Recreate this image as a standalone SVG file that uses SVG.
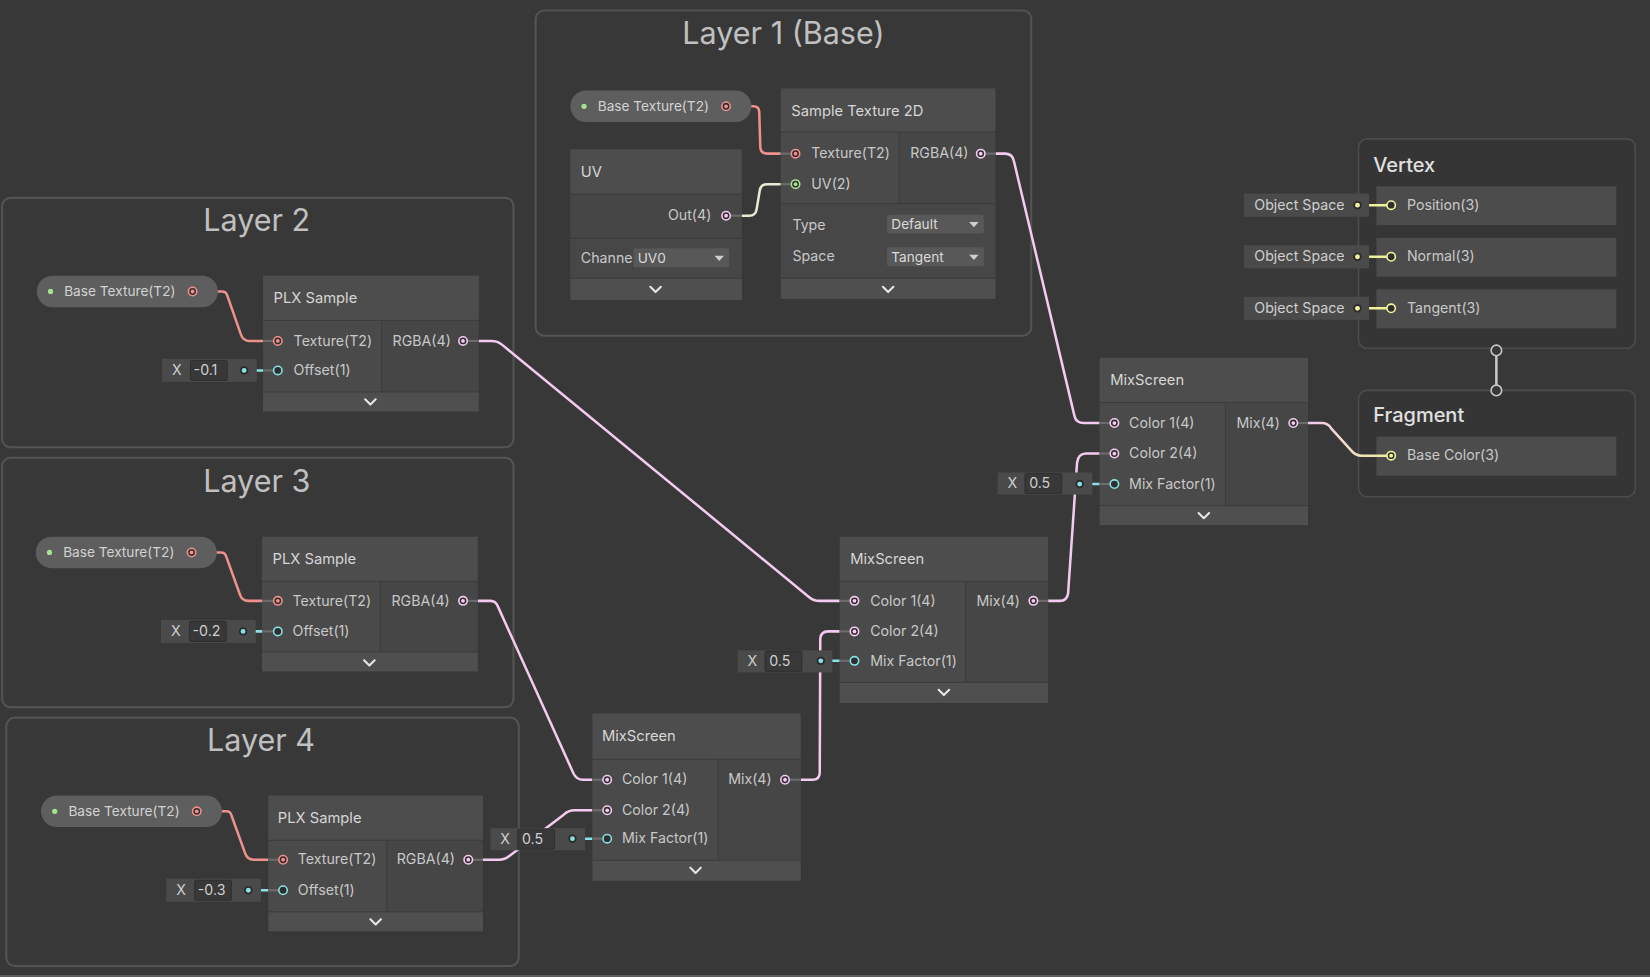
<svg xmlns="http://www.w3.org/2000/svg" width="1650" height="977" viewBox="0 0 1650 977">
<defs>
<style>
text{font-family:Inter,"Noto Sans","DejaVu Sans",sans-serif;}
.gbox{fill:#383838;stroke:#535353;stroke-width:2;}
.gt{font-size:29px;fill:#c0c0c0;text-anchor:middle;}
.base{fill:#3c3c3c;}
.hdr{fill:#4d4d4d;}
.in{fill:#4a4a4a;}
.out{fill:#464646;}
.ctl{fill:#474747;}
.ftr{fill:#4f4f4f;}
.ttl{font-size:14px;fill:#d6d6d6;}
.lbl{font-size:13.5px;fill:#c8c8c8;}
.end{text-anchor:end;}
.pill{fill:#5e5e5e;}
.ptxt{font-size:13px;fill:#d2d2d2;}
.chev{fill:none;stroke:#e6e6e6;stroke-width:2;stroke-linecap:round;stroke-linejoin:round;}
.dd{fill:#585858;}
.ddt{font-size:13px;fill:#dadada;}
.tri{fill:#cfcfcf;}
.fld{fill:#4a4a4a;}
.fin{fill:#383838;stroke:#303030;stroke-width:1;}
.ftxt{font-size:13.5px;fill:#cfcfcf;}
.fx{font-size:13.5px;fill:#cfcfcf;text-anchor:middle;}
.stub{stroke:#6c6c6c;stroke-width:2;}
.e{fill:none;stroke-width:2.4;stroke-linecap:round;stroke-linejoin:round;}
.etex{stroke:#ee918d;}
.ev4{stroke:#f4cbf0;}
.ev2{stroke:#e2edd2;}
.ev1{stroke:#86e2e6;}
.ev3{stroke:#eef09c;}
.ev0{stroke:#c8c8c8;}
.r{fill:#2f2f2f;stroke-width:1.5;}
.rtex{stroke:#f08f8c;} .dtex{fill:#f08f8c;}
.rv4{stroke:#f7ccf2;} .dv4{fill:#f7ccf2;}
.rv2{stroke:#a5e48f;} .dv2{fill:#a5e48f;}
.rv1{stroke:#86e2e6;} .dv1{fill:#86e2e6;}
.rv3{stroke:#f4f59c;} .dv3{fill:#f4f59c;}
.dk{fill:#2b2b2b;}
.mbox{fill:#353535;stroke:#4c4c4c;stroke-width:1.5;}
.row{fill:#4c4c4c;}
.mt{font-size:19px;fill:#e0e0e0;font-weight:500;}
.vc{fill:#383838;stroke:#c8c8c8;stroke-width:1.5;}
</style>
<linearGradient id="g18" gradientUnits="userSpaceOnUse" x1="1243" y1="0" x2="1322" y2="0">
<stop offset="0" stop-color="#f4cbf0"/><stop offset="1" stop-color="#eef09c"/>
</linearGradient>
</defs>
<rect x="0" y="0" width="1650" height="977" fill="#383838"/>
<rect x="0" y="975" width="1650" height="2" fill="#5c5c5c"/>
<g transform="scale(1.0523)">

<g id="groups">
<g id="group-layer1"><rect class="gbox" x="509" y="10" width="471" height="309" rx="8"/><text class="gt" x="744.5" y="41.5">Layer 1 (Base)</text></g>
<g id="group-layer2"><rect class="gbox" x="2" y="188" width="486" height="237" rx="8"/><text class="gt" x="244" y="219.5">Layer 2</text></g>
<g id="group-layer3"><rect class="gbox" x="2" y="435" width="486" height="237" rx="8"/><text class="gt" x="244" y="467.5">Layer 3</text></g>
<g id="group-layer4"><rect class="gbox" x="6" y="682" width="487" height="236" rx="8"/><text class="gt" x="248" y="713.5">Layer 4</text></g>
<g id="vertex"><rect class="mbox" x="1291" y="132" width="263" height="199" rx="8"/><text class="mt" x="1305" y="163.5">Vertex</text>
<rect class="row" x="1308" y="177" width="228" height="37"/><rect class="row" x="1308" y="226" width="228" height="37"/><rect class="row" x="1308" y="275" width="228" height="37"/>
<text class="lbl" x="1337" y="199.5">Position(3)</text><text class="lbl" x="1337" y="248.5">Normal(3)</text><text class="lbl" x="1337" y="297.5">Tangent(3)</text></g>
<g id="fragment"><rect class="mbox" x="1291" y="371" width="263" height="101" rx="8"/><text class="mt" x="1305" y="401.5">Fragment</text>
<rect class="row" x="1308" y="415" width="228" height="37"/><text class="lbl" x="1337" y="437.5">Base Color(3)</text></g>
</g>

<g id="connectors">
<path class="e etex" d="M 714 101 L 716 101 Q 721 101 721.5 106 L 722.5 140 Q 723 146 729 146 L 756 146"/>
<path class="e ev2" d="M 705 205 L 712 205 Q 718 205 719 199 L 722 181 Q 723 175 729 175 L 756 175"/>
<path class="e ev4" d="M 946 146 L 955 146 Q 962 146 963.5 153 L 1021 395 Q 1022.5 402 1030 402 L 1059 402"/>
<path class="e etex" d="M 207 277 L 211 277 Q 215 277 216 281 L 229 318 Q 231 324 237 324 L 264 324"/>
<path class="e ev1" d="M 232 352 L 264 352"/>
<path class="e ev4" d="M 455 324 L 467 324 Q 473 324 477 327.5 L 769 567.5 Q 773 571 779 571 L 812 571"/>
<path class="e etex" d="M 206 525 L 210 525 Q 214 525 215 529 L 228 565 Q 230 571 236 571 L 264 571"/>
<path class="e ev1" d="M 231 600 L 264 600"/>
<path class="e ev4" d="M 454 571 L 466 571 Q 471 571 473 576 L 545 735 Q 548 741 554 741 L 577 741"/>
<path class="e etex" d="M 211 771 L 215 771 Q 219 771 220 775 L 233 811 Q 235 817 241 817 L 269 817"/>
<path class="e ev1" d="M 236 846 L 269 846"/>
<path class="e ev4" d="M 459 817 L 474 817 Q 480 817 484 813.5 L 536 774 Q 540 770 546 770 L 577 770"/>
<path class="e ev1" d="M 544 797 L 577 797"/>
<path class="e ev4" d="M 761 741 L 772 741 Q 779 741 779 734 L 779.5 607 Q 780 600 787 600 L 812 600"/>
<path class="e ev1" d="M 780 628 L 812 628"/>
<path class="e ev4" d="M 996 571 L 1007 571 Q 1014 571 1015 564 L 1023.5 440 Q 1024.5 431 1032 431 L 1059 431"/>
<path class="e ev1" d="M 1026 460 L 1059 460"/>
<path class="e" stroke="url(#g18)" d="M 1243 402 L 1256 402 Q 1262 402 1265 407 L 1284 428 Q 1288 433 1294 433 L 1322 433"/>
<path class="e ev3" d="M 1290 195 L 1322 195"/>
<path class="e ev3" d="M 1290 244 L 1322 244"/>
<path class="e ev3" d="M 1290 293 L 1322 293"/>
<line class="e ev0" x1="1422" y1="333" x2="1422" y2="371"/>
<circle class="vc" cx="1422" cy="333" r="5"/>
<circle class="vc" cx="1422" cy="371" r="5"/>
</g>

<g id="ports-master">
<circle class="r rv3" cx="1322" cy="195" r="4"/>
<circle class="r rv3" cx="1322" cy="244" r="4"/>
<circle class="r rv3" cx="1322" cy="293" r="4"/>
<circle class="r rv3" cx="1322" cy="433" r="4"/><circle class="dv3" cx="1322" cy="433" r="1.8"/>
</g>

<!-- Layer 1 -->
<g id="prop-base-tex-1">
<rect class="pill" x="542" y="86" width="172" height="30" rx="15"/>
<circle class="dv2" cx="555" cy="101" r="2.5"/>
<text class="ptxt" x="568" y="105.5">Base Texture(T2)</text>
<circle class="r rtex" cx="690" cy="101" r="4"/><circle class="dtex" cx="690" cy="101" r="1.8"/>
</g>
<g id="node-uv">
<rect class="base" x="542" y="142" width="163" height="143"/>
<rect class="hdr" x="542" y="142" width="163" height="42"/>
<rect class="out" x="542" y="185" width="163" height="41"/>
<rect class="ctl" x="542" y="227" width="163" height="37"/>
<rect class="ftr" x="542" y="265" width="163" height="20"/>
<text class="ttl" x="552" y="168">UV</text>
<text class="lbl end" x="676" y="209.5">Out(4)</text>
<line class="stub" x1="694" y1="205" x2="705" y2="205"/>
<circle class="r rv4" cx="690" cy="205" r="4"/><circle class="dv4" cx="690" cy="205" r="1.8"/>
<text class="lbl" x="552" y="249.5">Channe</text>
<rect class="dd" x="602" y="236" width="91" height="18" rx="2"/>
<text class="ddt" x="606" y="249.5">UV0</text>
<polygon class="tri" points="679,243 688,243 683.5,248"/>
<path class="chev" d="M 618 272.5 L 623 277.5 L 628 272.5"/>
</g>
<g id="node-sample-texture-2d">
<rect class="base" x="742" y="84" width="204" height="200"/>
<rect class="hdr" x="742" y="84" width="204" height="41"/>
<rect class="in" x="742" y="126" width="112" height="67"/>
<rect class="out" x="855" y="126" width="91" height="67"/>
<rect class="ctl" x="742" y="194" width="204" height="70"/>
<rect class="ftr" x="742" y="265" width="204" height="19"/>
<text class="ttl" x="752" y="110">Sample Texture 2D</text>
<line class="stub" x1="742" y1="146" x2="752" y2="146"/>
<line class="stub" x1="742" y1="175" x2="752" y2="175"/>
<circle class="r rtex" cx="756" cy="146" r="4"/><circle class="dtex" cx="756" cy="146" r="1.8"/>
<circle class="r rv2" cx="756" cy="175" r="4"/><circle class="dv2" cx="756" cy="175" r="1.8"/>
<text class="lbl" x="771" y="150.5">Texture(T2)</text>
<text class="lbl" x="771" y="179.5">UV(2)</text>
<text class="lbl" x="865" y="150.5">RGBA(4)</text>
<line class="stub" x1="936" y1="146" x2="946" y2="146"/>
<circle class="r rv4" cx="932" cy="146" r="4"/><circle class="dv4" cx="932" cy="146" r="1.8"/>
<text class="lbl" x="753" y="218.5">Type</text>
<rect class="dd" x="843" y="204" width="92" height="18" rx="2"/>
<text class="ddt" x="847" y="218">Default</text>
<polygon class="tri" points="921,211 930,211 925.5,216"/>
<text class="lbl" x="753" y="248.5">Space</text>
<rect class="dd" x="843" y="235" width="92" height="18" rx="2"/>
<text class="ddt" x="847" y="249">Tangent</text>
<polygon class="tri" points="921,242 930,242 925.5,247"/>
<path class="chev" d="M 839 272.5 L 844 277.5 L 849 272.5"/>
</g>

<!-- Layer 2 -->
<g id="prop-base-tex-2">
<rect class="pill" x="35" y="262" width="172" height="30" rx="15"/>
<circle class="dv2" cx="48" cy="277" r="2.5"/>
<text class="ptxt" x="61" y="281.5">Base Texture(T2)</text>
<circle class="r rtex" cx="183" cy="277" r="4"/><circle class="dtex" cx="183" cy="277" r="1.8"/>
</g>
<g id="node-plx-sample-2">
<rect class="base" x="250" y="262" width="205" height="129"/>
<rect class="hdr" x="250" y="262" width="205" height="42"/>
<rect class="in" x="250" y="305" width="112" height="67"/>
<rect class="out" x="363" y="305" width="92" height="67"/>
<rect class="ftr" x="250" y="373" width="205" height="18"/>
<text class="ttl" x="260" y="288">PLX Sample</text>
<line class="stub" x1="250" y1="324" x2="260" y2="324"/>
<line class="stub" x1="250" y1="352" x2="260" y2="352"/>
<circle class="r rtex" cx="264" cy="324" r="4"/><circle class="dtex" cx="264" cy="324" r="1.8"/>
<circle class="r rv1" cx="264" cy="352" r="4"/>
<text class="lbl" x="279" y="328.5">Texture(T2)</text>
<text class="lbl" x="279" y="356.5">Offset(1)</text>
<text class="lbl" x="373" y="328.5">RGBA(4)</text>
<line class="stub" x1="444" y1="324" x2="455" y2="324"/>
<circle class="r rv4" cx="440" cy="324" r="4"/><circle class="dv4" cx="440" cy="324" r="1.8"/>
<path class="chev" d="M 347 379.5 L 352 384.5 L 357 379.5"/>
</g>
<g id="field-offset-2">
<rect class="fld" x="154" y="341" width="90" height="22"/>
<text class="fx" x="168" y="356.5">X</text>
<rect class="fin" x="181" y="342.5" width="35" height="19" rx="2"/>
<text class="ftxt" x="184" y="356.5">-0.1</text>
<circle class="dk" cx="232" cy="352" r="4"/><circle class="dv1" cx="232" cy="352" r="2.3"/>
</g>

<!-- Layer 3 -->
<g id="prop-base-tex-3">
<rect class="pill" x="34" y="510" width="172" height="30" rx="15"/>
<circle class="dv2" cx="47" cy="525" r="2.5"/>
<text class="ptxt" x="60" y="529.5">Base Texture(T2)</text>
<circle class="r rtex" cx="182" cy="525" r="4"/><circle class="dtex" cx="182" cy="525" r="1.8"/>
</g>
<g id="node-plx-sample-3">
<rect class="base" x="249" y="510" width="205" height="128"/>
<rect class="hdr" x="249" y="510" width="205" height="42"/>
<rect class="in" x="249" y="553" width="112" height="66"/>
<rect class="out" x="362" y="553" width="92" height="66"/>
<rect class="ftr" x="249" y="620" width="205" height="18"/>
<text class="ttl" x="259" y="536">PLX Sample</text>
<line class="stub" x1="249" y1="571" x2="260" y2="571"/>
<line class="stub" x1="249" y1="600" x2="260" y2="600"/>
<circle class="r rtex" cx="264" cy="571" r="4"/><circle class="dtex" cx="264" cy="571" r="1.8"/>
<circle class="r rv1" cx="264" cy="600" r="4"/>
<text class="lbl" x="278" y="575.5">Texture(T2)</text>
<text class="lbl" x="278" y="604.5">Offset(1)</text>
<text class="lbl" x="372" y="575.5">RGBA(4)</text>
<line class="stub" x1="444" y1="571" x2="454" y2="571"/>
<circle class="r rv4" cx="440" cy="571" r="4"/><circle class="dv4" cx="440" cy="571" r="1.8"/>
<path class="chev" d="M 346 627.5 L 351 632.5 L 356 627.5"/>
</g>
<g id="field-offset-3">
<rect class="fld" x="153" y="589" width="90" height="22"/>
<text class="fx" x="167" y="604.5">X</text>
<rect class="fin" x="180" y="590.5" width="35" height="19" rx="2"/>
<text class="ftxt" x="183" y="604.5">-0.2</text>
<circle class="dk" cx="231" cy="600" r="4"/><circle class="dv1" cx="231" cy="600" r="2.3"/>
</g>

<!-- Layer 4 -->
<g id="prop-base-tex-4">
<rect class="pill" x="39" y="756" width="172" height="30" rx="15"/>
<circle class="dv2" cx="52" cy="771" r="2.5"/>
<text class="ptxt" x="65" y="775.5">Base Texture(T2)</text>
<circle class="r rtex" cx="187" cy="771" r="4"/><circle class="dtex" cx="187" cy="771" r="1.8"/>
</g>
<g id="node-plx-sample-4">
<rect class="base" x="255" y="756" width="204" height="129"/>
<rect class="hdr" x="255" y="756" width="204" height="42"/>
<rect class="in" x="255" y="799" width="112" height="67"/>
<rect class="out" x="368" y="799" width="91" height="67"/>
<rect class="ftr" x="255" y="867" width="204" height="18"/>
<text class="ttl" x="264" y="782">PLX Sample</text>
<line class="stub" x1="255" y1="817" x2="265" y2="817"/>
<line class="stub" x1="255" y1="846" x2="265" y2="846"/>
<circle class="r rtex" cx="269" cy="817" r="4"/><circle class="dtex" cx="269" cy="817" r="1.8"/>
<circle class="r rv1" cx="269" cy="846" r="4"/>
<text class="lbl" x="283" y="821.5">Texture(T2)</text>
<text class="lbl" x="283" y="850.5">Offset(1)</text>
<text class="lbl" x="377" y="821.5">RGBA(4)</text>
<line class="stub" x1="449" y1="817" x2="459" y2="817"/>
<circle class="r rv4" cx="445" cy="817" r="4"/><circle class="dv4" cx="445" cy="817" r="1.8"/>
<path class="chev" d="M 352 873.5 L 357 878.5 L 362 873.5"/>
</g>
<g id="field-offset-4">
<rect class="fld" x="158" y="835" width="90" height="22"/>
<text class="fx" x="172" y="850.5">X</text>
<rect class="fin" x="185" y="836.5" width="35" height="19" rx="2"/>
<text class="ftxt" x="188" y="850.5">-0.3</text>
<circle class="dk" cx="236" cy="846" r="4"/><circle class="dv1" cx="236" cy="846" r="2.3"/>
</g>

<!-- MixScreen A -->
<g id="node-mixscreen-a">
<rect class="base" x="563" y="678" width="198" height="159"/>
<rect class="hdr" x="563" y="678" width="198" height="43"/>
<rect class="in" x="563" y="722" width="119" height="95"/>
<rect class="out" x="683" y="722" width="78" height="95"/>
<rect class="ftr" x="563" y="818" width="198" height="19"/>
<text class="ttl" x="572" y="704">MixScreen</text>
<line class="stub" x1="563" y1="741" x2="573" y2="741"/>
<line class="stub" x1="563" y1="770" x2="573" y2="770"/>
<line class="stub" x1="563" y1="797" x2="573" y2="797"/>
<circle class="r rv4" cx="577" cy="741" r="4"/><circle class="dv4" cx="577" cy="741" r="1.8"/>
<circle class="r rv4" cx="577" cy="770" r="4"/><circle class="dv4" cx="577" cy="770" r="1.8"/>
<circle class="r rv1" cx="577" cy="797" r="4"/>
<text class="lbl" x="591" y="745.5">Color 1(4)</text>
<text class="lbl" x="591" y="774.5">Color 2(4)</text>
<text class="lbl" x="591" y="801.5">Mix Factor(1)</text>
<text class="lbl" x="692" y="745.5">Mix(4)</text>
<line class="stub" x1="750" y1="741" x2="761" y2="741"/>
<circle class="r rv4" cx="746" cy="741" r="4"/><circle class="dv4" cx="746" cy="741" r="1.8"/>
<path class="chev" d="M 656 824.5 L 661 829.5 L 666 824.5"/>
</g>
<g id="field-mixfactor-a">
<rect class="fld" x="466" y="787" width="90" height="21"/>
<text class="fx" x="480" y="802">X</text>
<rect class="fin" x="492" y="788" width="35" height="19" rx="2"/>
<text class="ftxt" x="496" y="802">0.5</text>
<circle class="dk" cx="544" cy="797" r="4"/><circle class="dv1" cx="544" cy="797" r="2.3"/>
</g>

<!-- MixScreen B -->
<g id="node-mixscreen-b">
<rect class="base" x="798" y="510" width="198" height="158"/>
<rect class="hdr" x="798" y="510" width="198" height="42"/>
<rect class="in" x="798" y="553" width="119" height="95"/>
<rect class="out" x="918" y="553" width="78" height="95"/>
<rect class="ftr" x="798" y="649" width="198" height="19"/>
<text class="ttl" x="808" y="536">MixScreen</text>
<line class="stub" x1="798" y1="571" x2="808" y2="571"/>
<line class="stub" x1="798" y1="600" x2="808" y2="600"/>
<line class="stub" x1="798" y1="628" x2="808" y2="628"/>
<circle class="r rv4" cx="812" cy="571" r="4"/><circle class="dv4" cx="812" cy="571" r="1.8"/>
<circle class="r rv4" cx="812" cy="600" r="4"/><circle class="dv4" cx="812" cy="600" r="1.8"/>
<circle class="r rv1" cx="812" cy="628" r="4"/>
<text class="lbl" x="827" y="575.5">Color 1(4)</text>
<text class="lbl" x="827" y="604.5">Color 2(4)</text>
<text class="lbl" x="827" y="632.5">Mix Factor(1)</text>
<text class="lbl" x="928" y="575.5">Mix(4)</text>
<line class="stub" x1="986" y1="571" x2="996" y2="571"/>
<circle class="r rv4" cx="982" cy="571" r="4"/><circle class="dv4" cx="982" cy="571" r="1.8"/>
<path class="chev" d="M 892 655.5 L 897 660.5 L 902 655.5"/>
</g>
<g id="field-mixfactor-b">
<rect class="fld" x="701" y="618" width="90" height="21"/>
<text class="fx" x="715" y="633">X</text>
<rect class="fin" x="727" y="619" width="35" height="19" rx="2"/>
<text class="ftxt" x="731" y="633">0.5</text>
<circle class="dk" cx="780" cy="628" r="4"/><circle class="dv1" cx="780" cy="628" r="2.3"/>
</g>

<!-- MixScreen C -->
<g id="node-mixscreen-c">
<rect class="base" x="1045" y="340" width="198" height="159"/>
<rect class="hdr" x="1045" y="340" width="198" height="42"/>
<rect class="in" x="1045" y="383" width="119" height="97"/>
<rect class="out" x="1165" y="383" width="78" height="97"/>
<rect class="ftr" x="1045" y="481" width="198" height="18"/>
<text class="ttl" x="1055" y="366">MixScreen</text>
<line class="stub" x1="1045" y1="402" x2="1055" y2="402"/>
<line class="stub" x1="1045" y1="431" x2="1055" y2="431"/>
<line class="stub" x1="1045" y1="460" x2="1055" y2="460"/>
<circle class="r rv4" cx="1059" cy="402" r="4"/><circle class="dv4" cx="1059" cy="402" r="1.8"/>
<circle class="r rv4" cx="1059" cy="431" r="4"/><circle class="dv4" cx="1059" cy="431" r="1.8"/>
<circle class="r rv1" cx="1059" cy="460" r="4"/>
<text class="lbl" x="1073" y="406.5">Color 1(4)</text>
<text class="lbl" x="1073" y="435.5">Color 2(4)</text>
<text class="lbl" x="1073" y="464.5">Mix Factor(1)</text>
<text class="lbl" x="1175" y="406.5">Mix(4)</text>
<line class="stub" x1="1233" y1="402" x2="1243" y2="402"/>
<circle class="r rv4" cx="1229" cy="402" r="4"/><circle class="dv4" cx="1229" cy="402" r="1.8"/>
<path class="chev" d="M 1139 487.5 L 1144 492.5 L 1149 487.5"/>
</g>
<g id="field-mixfactor-c">
<rect class="fld" x="948" y="449" width="90" height="21"/>
<text class="fx" x="962" y="464">X</text>
<rect class="fin" x="974" y="450" width="35" height="19" rx="2"/>
<text class="ftxt" x="978" y="464">0.5</text>
<circle class="dk" cx="1026" cy="460" r="4"/><circle class="dv1" cx="1026" cy="460" r="2.3"/>
</g>

<!-- Object space fields -->
<g id="field-position">
<rect class="fld" x="1182" y="184" width="119" height="22"/>
<text class="ftxt" x="1192" y="199.5">Object Space</text>
<circle class="dk" cx="1290" cy="195" r="4"/><circle class="dv3" cx="1290" cy="195" r="2.3"/>
</g>
<g id="field-normal">
<rect class="fld" x="1182" y="233" width="119" height="22"/>
<text class="ftxt" x="1192" y="248.5">Object Space</text>
<circle class="dk" cx="1290" cy="244" r="4"/><circle class="dv3" cx="1290" cy="244" r="2.3"/>
</g>
<g id="field-tangent">
<rect class="fld" x="1182" y="282" width="119" height="22"/>
<text class="ftxt" x="1192" y="297.5">Object Space</text>
<circle class="dk" cx="1290" cy="293" r="4"/><circle class="dv3" cx="1290" cy="293" r="2.3"/>
</g>
</g>
</svg>
